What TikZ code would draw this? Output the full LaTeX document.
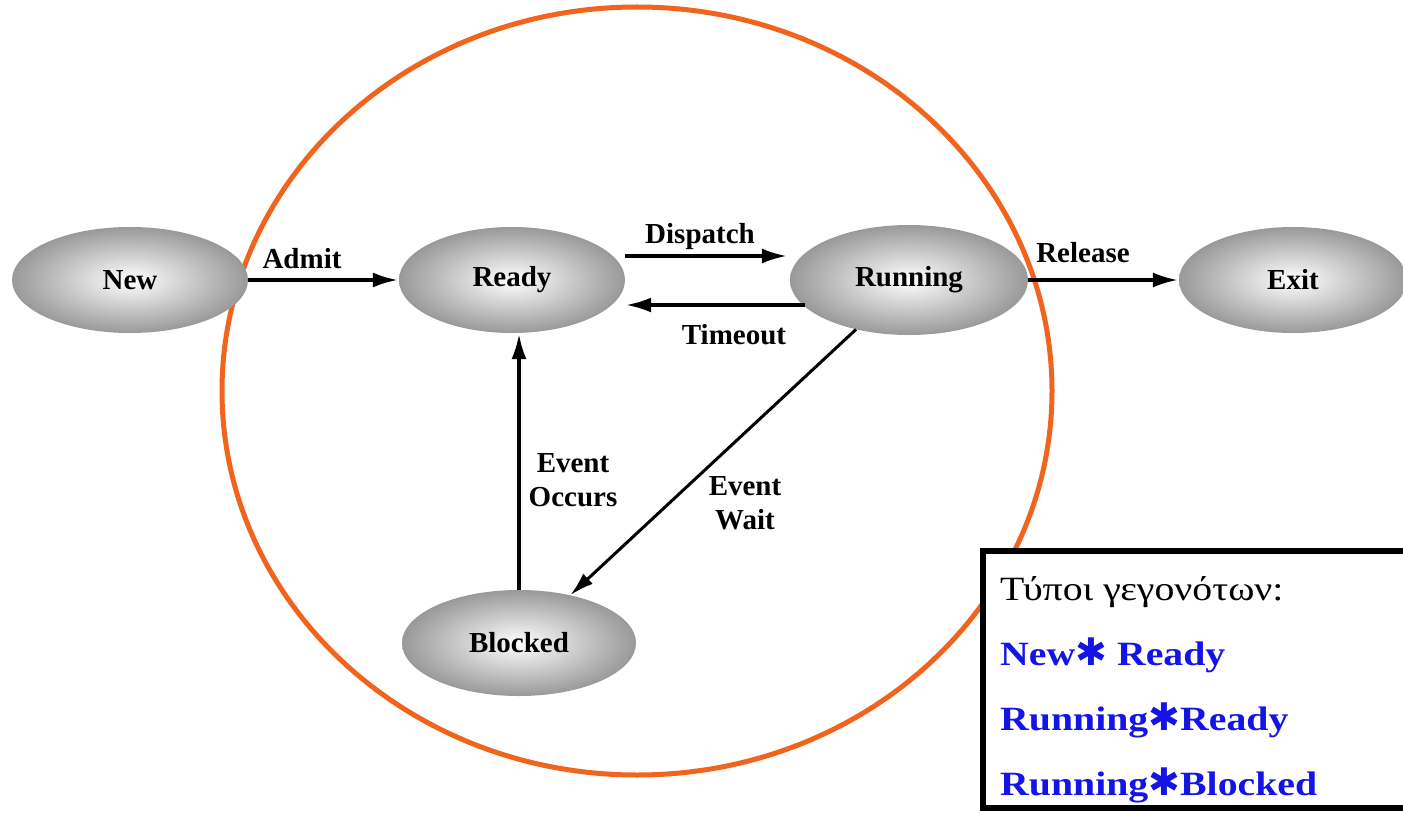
\documentclass[tikz,border=0pt]{standalone}
\usepackage{fontspec}
\setmainfont{Liberation Serif}
\newfontfamily\legendfont[FakeStretch=1.17]{Liberation Serif}
\newfontfamily\starfont{DejaVu Sans}
\usetikzlibrary{shapes.geometric,arrows.meta}
\definecolor{ringorange}{RGB}{240,100,30}
\definecolor{legendblue}{RGB}{20,20,230}
\tikzset{
  state/.style={ellipse, draw=none, inner sep=0pt,
    minimum width=232pt, minimum height=106pt,
    inner color=white, outer color=black!40,
    font=\fontsize{29}{32}\selectfont\bfseries},
  arr/.style={line width=4pt, -{Latex[length=26pt,width=15pt]}},
  lbl/.style={font=\fontsize{29}{34}\selectfont\bfseries, align=center, inner sep=0pt},
  legline/.style={anchor=base west, inner sep=0pt, text=legendblue,
    font=\legendfont\fontsize{34}{38}\selectfont\bfseries},
}
\newcommand{\bigstar}{{\starfont\bfseries\fontsize{38}{38}\selectfont ✱}}
\begin{document}
\begin{tikzpicture}[x=1pt,y=-1pt]
\useasboundingbox (0,0) rectangle (1403,813);
\fill[white] (0,0) rectangle (1403,813);

% ring of the states a process spends its life in
\draw[ringorange, line width=5pt] (637,391) ellipse [x radius=415, y radius=384];

% states
\node[state, minimum width=236pt] (New)     at (130,280) {New};
\node[state, minimum width=226pt] (Ready)   at (512,280) {Ready};
\node[state, minimum width=238pt, minimum height=110pt] (Running) at (909,280) {Running};
\node[state, minimum width=228pt] (Exit)    at (1293,280) {Exit};
\node[state, minimum width=234pt] (Blocked) at (519,643) {Blocked};

% transitions
\draw[arr] (New.east) -- (Ready.west);
\node[lbl] (admit) at (302,259) {Admit};

\draw[arr] ([yshift=24pt]Ready.east) -- ([xshift=-2pt,yshift=24pt]Running.west);
\node[lbl] (dispatch) at (700,237) {Dispatch};

\draw[arr] ([xshift=15pt,yshift=-25pt]Running.west) -- ([yshift=-25pt]Ready.east);
\node[lbl] (timeout) at (734,335) {Timeout};

\draw[arr] (Running.east) -- (Exit.west);
\node[lbl] (release) at (1083,253) {Release};

\draw[line width=3pt, -{Latex[length=24pt,width=14pt]}] (Running.223) -- (Blocked.43);
\node[lbl] (evwait) at (745,503) {Event\\Wait};

\draw[arr] (Blocked.north) -- (Blocked.north |- Ready.south);
\node[lbl] (evocc) at (573,480) {Event\\Occurs};

% legend of event types
\begin{scope}
\clip (0,0) rectangle (1403,813);
\draw[line width=6pt, fill=white] (983,551) rectangle (1420,808);
\end{scope}
\node[anchor=base west, inner sep=0pt, font=\legendfont\fontsize{34}{38}\selectfont] (legtitle) at (1000,600) {Τύποι γεγονότων:};
\node[legline] (leg1) at (1000,665) {New\bigstar\ Ready};
\node[legline] (leg2) at (1000,730) {Running\bigstar Ready};
\node[legline] (leg3) at (1000,795) {Running\bigstar Blocked};
\end{tikzpicture}
\end{document}
